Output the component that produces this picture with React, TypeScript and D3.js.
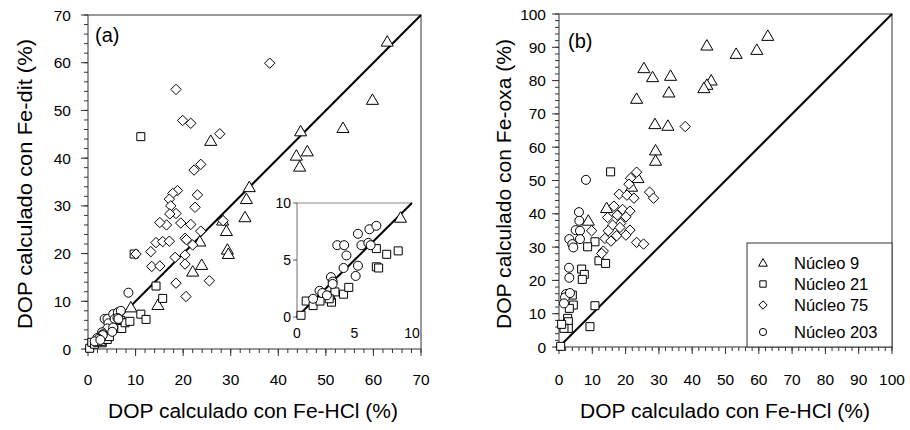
import { useEffect, useRef } from 'react';
import * as d3 from 'd3';

type Pt = [number, number];

// Panel (a): DOP Fe-HCl (x) vs DOP Fe-dit (y)
const a_nucleo9: Pt[] = [
  [62.9, 64.4], [59.8, 52.2], [53.6, 46.3], [44.7, 45.6], [25.8, 43.6], [46.1, 41.4],
  [43.8, 40.5], [44.5, 38.2], [33.9, 33.9], [33.3, 31.4], [33.0, 27.6], [28.3, 26.9],
  [29.1, 24.7], [29.3, 20.8], [29.5, 19.9], [23.5, 22.5], [23.9, 17.6], [22.0, 16.2],
  [14.7, 9.2], [9.0, 8.7],
];
const a_nucleo21: Pt[] = [
  [11.1, 44.5], [9.7, 19.9], [14.3, 13.2], [15.7, 10.6], [11.1, 7.3], [12.2, 6.2],
  [0.35, 0.15], [0.8, 1.4], [1.4, 1.0], [2.0, 1.4], [3.0, 1.3], [2.9, 1.9], [3.3, 2.2],
  [2.8, 1.6], [4.05, 2.0], [4.5, 2.6], [6.9, 6.0], [6.9, 4.4], [7.1, 4.3], [7.8, 5.5], [8.8, 5.8],
];
const a_nucleo75: Pt[] = [
  [38.2, 59.9], [18.5, 54.4], [19.9, 47.9], [21.6, 47.3], [27.7, 45.1], [23.7, 38.7],
  [22.3, 37.5], [18.8, 33.2], [17.8, 32.6], [17.1, 31.4], [17.4, 30.0], [23.0, 32.3],
  [22.5, 29.7], [18.5, 28.4], [17.2, 28.3], [19.5, 26.4], [16.5, 26.0], [15.1, 26.5],
  [21.6, 26.1], [23.7, 24.7], [14.3, 22.3], [15.7, 22.5], [17.1, 22.6], [13.2, 20.4],
  [20.4, 23.2], [20.7, 22.9], [22.0, 21.8], [10.1, 19.9], [18.3, 19.2], [20.4, 19.7],
  [13.4, 17.3], [15.1, 17.4], [20.4, 17.8], [18.5, 13.8], [25.5, 14.3], [20.6, 11.0],
  [28.4, 26.9],
];
const a_nucleo203: Pt[] = [
  [8.5, 11.8], [3.5, 6.3], [4.1, 6.3], [5.3, 7.3], [6.3, 7.7], [6.9, 8.0], [4.3, 5.4],
  [5.6, 6.3], [6.2, 6.5], [6.4, 6.3], [4.05, 4.3], [5.3, 4.5], [5.1, 3.6], [2.95, 3.5],
  [3.1, 3.1], [3.1, 2.9], [1.96, 2.3], [2.2, 2.1], [1.4, 1.6], [2.6, 1.9],
];

// Panel (b): DOP Fe-HCl (x) vs DOP Fe-oxa (y)
const b_nucleo9: Pt[] = [
  [62.7, 93.4], [44.4, 90.5], [59.4, 89.2], [53.2, 88.0], [25.5, 83.7], [28.1, 81.0],
  [33.5, 81.4], [45.7, 80.0], [44.4, 78.7], [43.5, 77.7], [33.0, 76.4], [23.3, 74.5],
  [28.8, 66.9], [32.7, 66.4], [29.0, 59.0], [29.0, 55.9], [23.7, 50.7], [21.8, 48.1],
  [14.3, 41.7], [8.8, 37.9],
];
const b_nucleo21: Pt[] = [
  [15.5, 52.6], [10.8, 31.6], [8.6, 30.1], [12.0, 25.9], [14.0, 25.1], [6.8, 23.4],
  [7.6, 21.8], [7.0, 20.3], [4.0, 15.6], [4.3, 12.6], [3.1, 11.6], [10.8, 12.4],
  [2.6, 8.6], [2.8, 7.6], [2.8, 5.6], [1.5, 5.6], [0.8, 6.8], [9.3, 6.1], [0.5, 0.2],
];
const b_nucleo75: Pt[] = [
  [37.9, 66.2], [23.3, 52.5], [21.5, 50.7], [21.0, 48.9], [27.2, 46.5], [28.4, 44.7],
  [18.1, 45.9], [20.4, 45.6], [22.5, 44.7], [16.5, 42.3], [19.1, 41.3], [21.3, 40.8],
  [14.6, 38.9], [17.5, 39.6], [20.1, 39.1], [18.5, 37.1], [9.8, 34.9], [16.1, 36.6],
  [14.8, 34.9], [18.3, 35.9], [21.3, 35.1], [13.8, 32.6], [15.6, 31.8], [17.3, 33.4],
  [20.1, 33.6], [23.3, 31.4], [25.4, 30.9], [13.3, 28.8], [12.8, 28.1],
];
const b_nucleo203: Pt[] = [
  [8.1, 50.2], [6.0, 40.5], [6.1, 37.9], [5.0, 35.1], [6.3, 34.9], [3.1, 32.4],
  [4.0, 30.9], [4.3, 29.9], [6.3, 32.4], [3.0, 23.8], [3.1, 20.8], [2.1, 15.9],
  [1.8, 14.9], [1.5, 13.1], [3.3, 16.2],
];

const legendLabels = ['Núcleo 9', 'Núcleo 21', 'Núcleo 75', 'Núcleo 203'];
const ticksA = d3.range(0, 71, 10);
const ticksB = d3.range(0, 101, 10);
const ticksInset = [0, 5, 10];

const FONT = 'Liberation Sans, Arial, sans-serif';

// marker paths centred on 0,0
const shapes: Record<string, (s: number) => string> = {
  tri: (s) => `M0,${-s * 0.55}L${s * 0.55},${s * 0.4}L${-s * 0.55},${s * 0.4}Z`,
  sq: (s) => `M${-s * 0.4},${-s * 0.4}h${s * 0.8}v${s * 0.8}h${-s * 0.8}Z`,
  dia: (s) => `M0,${-s * 0.52}L${s * 0.52},0L0,${s * 0.52}L${-s * 0.52},0Z`,
  circ: (s) => d3.arc()({ innerRadius: 0, outerRadius: s * 0.45, startAngle: 0, endAngle: 2 * Math.PI }) as string,
};

function drawPoints(g: any, data: Pt[], x: any, y: any, shape: string, size = 10) {
  g.append('g')
    .selectAll('path')
    .data(data)
    .join('path')
    .attr('d', shapes[shape](size))
    .attr('transform', (d: Pt) => `translate(${x(d[0])},${y(d[1])})`)
    .attr('fill', 'white')
    .attr('stroke', 'black')
    .attr('stroke-width', 1);
}

function drawFrame(svg: any, x: any, y: any, ticks: number[], minor: number[], yLabX: number) {
  const [x0, x1] = x.range();
  const [y0, y1] = y.range();
  const g = svg.append('g');
  g.append('rect')
    .attr('x', x0).attr('y', y1).attr('width', x1 - x0).attr('height', y0 - y1)
    .attr('fill', 'none').attr('stroke', '#333').attr('stroke-width', 1);
  // minor ticks
  g.selectAll('.mx').data(minor).join('line')
    .attr('x1', (d: number) => x(d)).attr('x2', (d: number) => x(d))
    .attr('y1', y0).attr('y2', y0 + 4).attr('stroke', '#333');
  g.selectAll('.my').data(minor).join('line')
    .attr('y1', (d: number) => y(d)).attr('y2', (d: number) => y(d))
    .attr('x1', x0).attr('x2', x0 - 4).attr('stroke', '#333');
  // major ticks
  g.selectAll('.Mx').data(ticks).join('line')
    .attr('x1', (d: number) => x(d)).attr('x2', (d: number) => x(d))
    .attr('y1', y0).attr('y2', y0 + 7).attr('stroke', '#333');
  g.selectAll('.My').data(ticks).join('line')
    .attr('y1', (d: number) => y(d)).attr('y2', (d: number) => y(d))
    .attr('x1', x0).attr('x2', x0 - 7).attr('stroke', '#333');
  g.selectAll('.lx').data(ticks).join('text')
    .attr('x', (d: number) => x(d)).attr('y', 385)
    .attr('text-anchor', 'middle').attr('font-size', 15.5).attr('font-family', FONT)
    .text((d: number) => d);
  g.selectAll('.ly').data(ticks).join('text')
    .attr('x', yLabX).attr('y', (d: number) => y(d) + 5.5)
    .attr('text-anchor', 'end').attr('font-size', 15.5).attr('font-family', FONT)
    .text((d: number) => d);
}

function diagonal(svg: any, x: any, y: any, max: number) {
  svg.append('line')
    .attr('x1', x(0)).attr('y1', y(0)).attr('x2', x(max)).attr('y2', y(max))
    .attr('stroke', 'black').attr('stroke-width', 2);
}

function title(svg: any, txt: string, transform: string) {
  svg.append('text').attr('transform', transform).attr('text-anchor', 'middle')
    .attr('font-size', 20).attr('font-family', FONT)
    .attr('textLength', 290).attr('lengthAdjust', 'spacingAndGlyphs')
    .text(txt);
}

export default function App() {
  const ref = useRef<SVGSVGElement>(null);

  useEffect(() => {
    const svg = d3.select(ref.current);
    svg.selectAll('*').remove();

    // ---- panel (a)
    const xa = d3.scaleLinear().domain([0, 70]).range([88, 421]);
    const ya = d3.scaleLinear().domain([0, 70]).range([349, 15]);
    drawFrame(svg, xa, ya, ticksA, d3.range(0, 71, 2), 71);
    diagonal(svg, xa, ya, 70);
    drawPoints(svg, a_nucleo9, xa, ya, 'tri', 11);
    drawPoints(svg, a_nucleo21, xa, ya, 'sq', 10);
    drawPoints(svg, a_nucleo75, xa, ya, 'dia', 10);
    drawPoints(svg, a_nucleo203, xa, ya, 'circ', 10);
    svg.append('text').attr('x', 95).attr('y', 42).attr('font-size', 20)
      .attr('font-family', FONT).text('(a)');

    // inset
    const xi = d3.scaleLinear().domain([0, 10]).range([297, 412]);
    const yi = d3.scaleLinear().domain([0, 10]).range([317, 203]);
    const inset = svg.append('g');
    inset.append('rect').attr('x', 297).attr('y', 203).attr('width', 115).attr('height', 114)
      .attr('fill', 'white');
    inset.append('path').attr('d', `M${xi(0)},${yi(0)}V${yi(10)}H${xi(10)}`)
      .attr('fill', 'none').attr('stroke', '#888').attr('stroke-width', 1.2);
    inset.selectAll('.it').data(ticksInset).join('line')
      .attr('x1', xi(0) - 4).attr('x2', xi(0)).attr('y1', (d: number) => yi(d)).attr('y2', (d: number) => yi(d))
      .attr('stroke', '#555');
    inset.selectAll('.ily').data(ticksInset).join('text')
      .attr('x', xi(0) - 6).attr('y', (d: number) => yi(d) + 5).attr('text-anchor', 'end')
      .attr('font-size', 14).attr('font-family', FONT).text((d: number) => d);
    inset.selectAll('.ilx').data(ticksInset).join('text')
      .attr('x', (d: number) => xi(d)).attr('y', 338).attr('text-anchor', 'middle')
      .attr('font-size', 14).attr('font-family', FONT).text((d: number) => d);
    diagonal(inset, xi, yi, 10);
    const inRange = (d: Pt) => d[0] <= 10 && d[1] <= 10;
    drawPoints(inset, a_nucleo9.filter(inRange), xi, yi, 'tri', 11);
    drawPoints(inset, a_nucleo21.filter(inRange), xi, yi, 'sq', 10);
    drawPoints(inset, a_nucleo75.filter(inRange), xi, yi, 'dia', 10);
    drawPoints(inset, a_nucleo203.filter(inRange), xi, yi, 'circ', 10);

    title(svg, 'DOP calculado con Fe-HCl (%)', 'translate(253,418)');
    title(svg, 'DOP calculado con Fe-dit (%)', 'translate(32,184) rotate(-90)');

    // ---- panel (b)
    const xb = d3.scaleLinear().domain([0, 100]).range([559, 892]);
    const yb = d3.scaleLinear().domain([0, 100]).range([347, 14]);
    drawFrame(svg, xb, yb, ticksB, d3.range(0, 101, 2), 546);
    diagonal(svg, xb, yb, 100);
    drawPoints(svg, b_nucleo9, xb, yb, 'tri', 11);
    drawPoints(svg, b_nucleo21, xb, yb, 'sq', 10);
    drawPoints(svg, b_nucleo75, xb, yb, 'dia', 10);
    drawPoints(svg, b_nucleo203, xb, yb, 'circ', 10);
    svg.append('text').attr('x', 568).attr('y', 48).attr('font-size', 20)
      .attr('font-family', FONT).text('(b)');

    // legend
    const lg = svg.append('g');
    lg.append('rect').attr('x', 747).attr('y', 243).attr('width', 145).attr('height', 104)
      .attr('fill', 'white').attr('stroke', '#333');
    const shapeKeys = ['tri', 'sq', 'dia', 'circ'];
    const rowY = [263, 284, 305, 332];
    legendLabels.forEach((lab, i) => {
      lg.append('path').attr('d', shapes[shapeKeys[i]](8))
        .attr('transform', `translate(763,${rowY[i]})`)
        .attr('fill', 'white').attr('stroke', 'black');
      lg.append('text').attr('x', 794).attr('y', rowY[i] + 6)
        .attr('font-size', 16.5).attr('font-family', FONT).text(lab);
    });

    title(svg, 'DOP calculado con Fe-HCl (%)', 'translate(725,418)');
    title(svg, 'DOP calculado con Fe-oxa (%)', 'translate(511,184) rotate(-90)');
  }, []);

  return (
    <div style={{ position: 'absolute', left: 0, top: 0 }}>
      <svg ref={ref} width={910} height={430} style={{ display: 'block', background: 'white' }} />
    </div>
  );
}
